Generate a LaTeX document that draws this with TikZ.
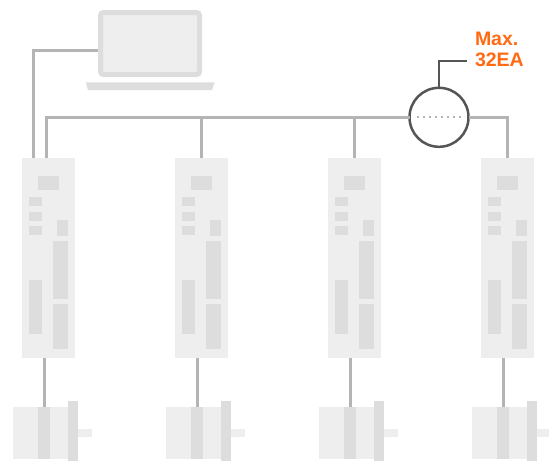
\documentclass[tikz,border=0pt]{standalone}
\usepackage{fontspec}
\setmainfont{Liberation Sans}
\definecolor{panel}{HTML}{EEEEEE}
\definecolor{slot}{HTML}{DCDDDC}
\definecolor{cable}{HTML}{B4B4B4}
\definecolor{ring}{HTML}{555555}
\definecolor{accent}{HTML}{FF6A13}

\begin{document}
\begin{tikzpicture}[x=1pt, y=-1pt,
            every node/.style={inner sep=0pt, outer sep=0pt},
            drivebox/.style={fill=panel, minimum width=53pt, minimum height=200pt},
            wire/.style={draw=cable, line width=3pt},
            hubring/.style={circle, draw=ring, line width=2.5pt, fill=white, minimum size=59pt},
            tag/.style={text=accent, anchor=base west,
                font=\fontsize{19.5}{22}\selectfont\bfseries}]
        \useasboundingbox (0,0) rectangle (549,461);

        % laptop
        \node[fill=panel, draw=slot, line width=5pt, rounded corners=3pt, outer sep=2.5pt,
              minimum width=99pt, minimum height=62pt] (pc) at (150,43.5) {};
        \fill[slot] (85.7,82.3) -- (214.7,82.3) -- (212,90) -- (88,90) -- cycle;

        % drives and motors
        \foreach \i in {1,...,4} {
            \pgfmathsetmacro{\dx}{153*(\i-1)}
            \node[drivebox] (d\i) at (48.5+\dx,258) {};
            \begin{scope}[shift={(d\i.north west)}]
                \fill[slot] (16,18) rectangle (37,32);
                \fill[slot] (7,39) rectangle (20,48);
                \fill[slot] (7,54) rectangle (20,63);
                \fill[slot] (7,68) rectangle (20,77);
                \fill[slot] (35,62) rectangle (46,78);
                \fill[slot] (31,83) rectangle (46,141);
                \fill[slot] (31,146) rectangle (46,191);
                \fill[slot] (7,122) rectangle (20,176);
            \end{scope}
            \fill[panel] (13+\dx,406.7) rectangle (68+\dx,459);
            \node[fill=slot, minimum width=12pt, minimum height=52.3pt] (m\i) at (44+\dx,432.8) {};
            \fill[slot] (68+\dx,401) rectangle (78+\dx,461);
            \fill[panel] (78+\dx,429) rectangle (92+\dx,436.7);
            \draw[wire] (m\i.north) -- (m\i.north |- d\i.south);
        }

        % network
        \node[hubring] (hub) at (439,117.3) {};
        \draw[wire] ([xshift=-2pt]d1.north) |- (hub.west);
        \draw[wire] (hub.east) -| (d4.north);
        \draw[wire] (d2.north) -- (d2.north |- hub.west);
        \draw[wire] (d3.north) -- (d3.north |- hub.west);
        \draw[wire] ([xshift=-15pt]d1.north) |- ([yshift=-6.5pt]pc.west);
        \draw[cable, line width=2pt, dash pattern=on 2pt off 4pt]
            ([xshift=7pt]hub.west) -- ([xshift=-4pt]hub.east);

        % node count
        \node[tag] (maxlbl) at (475,45) {Max.};
        \node[tag] (cnt) at (475,66) {32EA};
        \draw[ring, line width=2.2pt] (hub.north) |- ([xshift=-7.7pt,yshift=5.3pt]cnt.base west);
\end{tikzpicture}
\end{document}
